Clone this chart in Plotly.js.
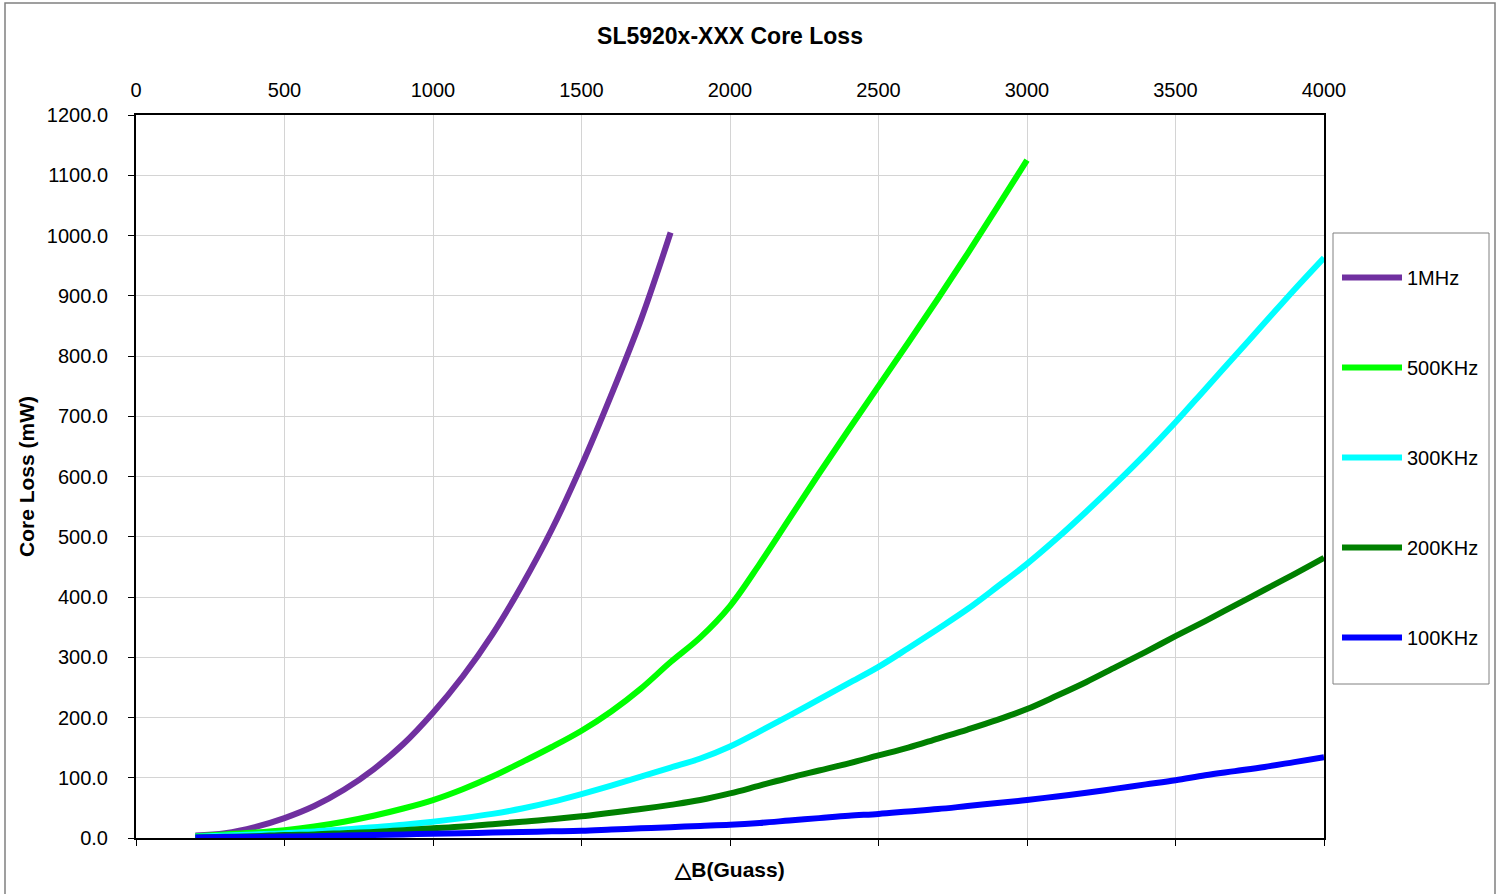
<!DOCTYPE html>
<html>
<head>
<meta charset="utf-8">
<script src="https://cdn.plot.ly/plotly-3.0.1.min.js"></script>
<style>
  html, body { margin: 0; padding: 0; background: #ffffff; }
  #chart { width: 1501px; height: 894px; }
</style>
</head>
<body>
<div id="chart"></div>
<script>
// Flux density swing (Gauss)
const bField = [200, 300, 400, 500, 600, 700, 800, 900, 1000, 1100, 1200, 1300, 1400, 1500, 1600, 1700, 1800,
                1900, 2000, 2100, 2200, 2300, 2400, 2500, 2600, 2700, 2800, 2900, 3000,
                3100, 3200, 3300, 3400, 3500, 3600, 3700, 3800, 3900, 4000];

const seriesNames = ["1MHz", "500KHz", "300KHz", "200KHz", "100KHz"];

// Core loss (mW) per frequency
const loss1MHz = [4, 8, 18, 33, 53, 80, 114, 156, 208, 268, 338, 420, 512, 618, 735, 860, 1005];
const loss500KHz = [3, 6, 9, 13, 19, 27, 37, 49, 63, 81, 102, 126, 151, 178, 210, 248, 292,
                    333, 385, 455, 530, 605, 678, 750, 822, 895, 970, 1047, 1125];
const loss300KHz = [2, 4, 6, 8, 11, 14, 18, 22, 27, 33, 40, 49, 60, 73, 87, 102, 117,
                    132, 152, 177, 203, 230, 257, 284, 315, 347, 380, 417, 455,
                    497, 542, 589, 638, 690, 745, 800, 855, 910, 963];
const loss200KHz = [1, 2, 3, 5, 6, 8, 10, 13, 16, 19, 23, 27, 31, 36, 42, 48, 55,
                    63, 74, 87, 100, 112, 124, 137, 150, 165, 180, 196, 214,
                    236, 259, 284, 309, 335, 360, 386, 412, 438, 465];
const loss100KHz = [1, 1.5, 2, 2.5, 3, 4, 5, 6, 7, 8, 9, 10, 11, 12, 14, 16, 18,
                    20, 22, 25, 29, 33, 37, 40, 44, 48, 53, 58, 63,
                    69, 75, 82, 89, 96, 104, 111, 118, 126, 134];

const seriesValues = [loss1MHz, loss500KHz, loss300KHz, loss200KHz, loss100KHz];
const seriesColors = ["#7030A0", "#00FF00", "#00FFFF", "#008000", "#0000FF"];

const traces = seriesNames.map((name, i) => ({
  type: "scatter",
  mode: "lines",
  name: name,
  legendgroup: "g" + i,
  x: bField.slice(0, seriesValues[i].length),
  y: seriesValues[i],
  line: { color: seriesColors[i], width: 6, shape: "spline", smoothing: 1 },
  hoverinfo: "x+y+name"
}));

// empty trace so the top label axis is drawn
traces.push({ type: "scatter", mode: "lines", x: [], y: [], xaxis: "x2", yaxis: "y",
              showlegend: false, hoverinfo: "skip" });

const fontFamily = "Liberation Sans, Arial, sans-serif";

const layout = {
  width: 1501,
  height: 894,
  margin: { l: 136, r: 177, t: 115, b: 56 },
  paper_bgcolor: "#ffffff",
  plot_bgcolor: "#ffffff",
  font: { family: fontFamily, size: 19, color: "#000000" },
  showlegend: true,
  title: {
    text: "<b>SL5920x-XXX Core Loss</b>",
    font: { family: fontFamily, size: 23, color: "#000000" },
    x: 0.5, xanchor: "center", xref: "paper",
    y: 1 - 36 / 894, yanchor: "middle", yref: "container"
  },
  xaxis: {
    range: [0, 4000],
    dtick: 500,
    tick0: 0,
    showticklabels: false,
    ticks: "outside",
    ticklen: 6,
    tickcolor: "#000000",
    showgrid: true,
    gridcolor: "#d4d4d4",
    gridwidth: 1,
    zeroline: false,
    showline: true,
    linecolor: "#000000",
    linewidth: 2,
    mirror: true,
    title: {
      text: "<b>△B(Guass)</b>",
      font: { family: fontFamily, size: 21, color: "#000000" },
      standoff: 17
    }
  },
  xaxis2: {
    overlaying: "x",
    side: "top",
    anchor: "y",
    range: [0, 4000],
    dtick: 500,
    tick0: 0,
    ticks: "",
    showgrid: false,
    zeroline: false,
    showline: false,
    ticklabelstandoff: 13,
    tickfont: { family: fontFamily, size: 20, color: "#000000" }
  },
  yaxis: {
    range: [0, 1200],
    dtick: 100,
    tick0: 0,
    tickformat: ".1f",
    ticks: "outside",
    ticklen: 6,
    tickcolor: "#000000",
    ticklabelstandoff: 16,
    tickfont: { family: fontFamily, size: 20, color: "#000000" },
    showgrid: true,
    gridcolor: "#d4d4d4",
    gridwidth: 1,
    zeroline: false,
    showline: true,
    linecolor: "#000000",
    linewidth: 2,
    mirror: true,
    title: {
      text: "<b>Core Loss (mW)</b>",
      font: { family: fontFamily, size: 21, color: "#000000" },
      standoff: 6
    }
  },
  legend: {
    x: (1337 - 136) / 1188,
    xanchor: "left",
    y: (838 - 258) / 723,
    yanchor: "top",
    bgcolor: "rgba(0,0,0,0)",
    borderwidth: 0,
    tracegroupgap: 61,
    itemwidth: 60,
    font: { family: fontFamily, size: 20, color: "#000000" }
  },
  shapes: [
    { type: "rect", xref: "paper", yref: "paper",
      x0: (5 - 136) / 1188, x1: (1495 - 136) / 1188,
      y0: (838 - 900) / 723, y1: (838 - 3) / 723,
      line: { color: "#808080", width: 1.5 }, fillcolor: "rgba(0,0,0,0)", layer: "below" },
    { type: "rect", xref: "paper", yref: "paper",
      x0: (1333 - 136) / 1188, x1: (1489 - 136) / 1188,
      y0: (838 - 684) / 723, y1: (838 - 233) / 723,
      line: { color: "#808080", width: 1 }, fillcolor: "rgba(0,0,0,0)" }
  ]
};

Plotly.newPlot("chart", traces, layout, { displayModeBar: false, responsive: false });
</script>
</body>
</html>
